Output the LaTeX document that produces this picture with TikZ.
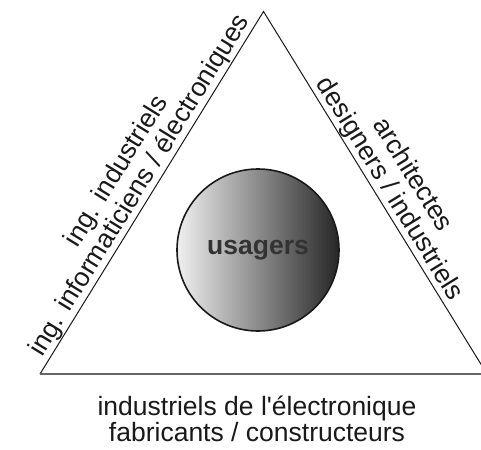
\documentclass[tikz,border=0pt]{standalone}
\usepackage{fontspec}
\setmainfont{Liberation Sans}[Ligatures=TeXOff]
\usetikzlibrary{calc}
\begin{document}
\begin{tikzpicture}[x=1pt,y=-1pt,
  side/.style={line width=1pt, black!90},
  base/.style={line width=2.2pt, black!60},
  lab/.style={font=\fontsize{26.5}{27}\selectfont, text=black!90, align=center, inner sep=1pt},
  hub/.style={circle, draw=black!90, line width=1.6pt, minimum size=162pt, inner sep=0pt,
    left color=black!6, right color=black!85}]
\useasboundingbox (0,0) rectangle (481,449);
\clip (0,0) rectangle (481,449);
\coordinate (A) at (263.5,11.5);
\coordinate (B) at (40,374);
\coordinate (C) at (487,374);
\draw[side] (B) -- (A) -- (C);
\draw[base] (B) -- (C);
\node[hub] (U) at (258,250) {};
\node[font=\bfseries\fontsize{26.5}{26.5}\selectfont, text=black!80] (UT) at (U) {usagers};
\node[lab, rotate=58.34, anchor=south] (L) at ($(B)!0.5!(A)$) {ing. industriels\\ing. informaticiens / électroniques};
\node[lab, rotate=-58.34, anchor=south] (R) at ($(A)!0.51!(C)$) {architectes\\designers / industriels};
\node[lab, anchor=base] (D1) at (257,415) {industriels de l'électronique};
\node[lab, anchor=base] (D2) at (257,441.5) {fabricants / constructeurs};
\end{tikzpicture}
\end{document}
